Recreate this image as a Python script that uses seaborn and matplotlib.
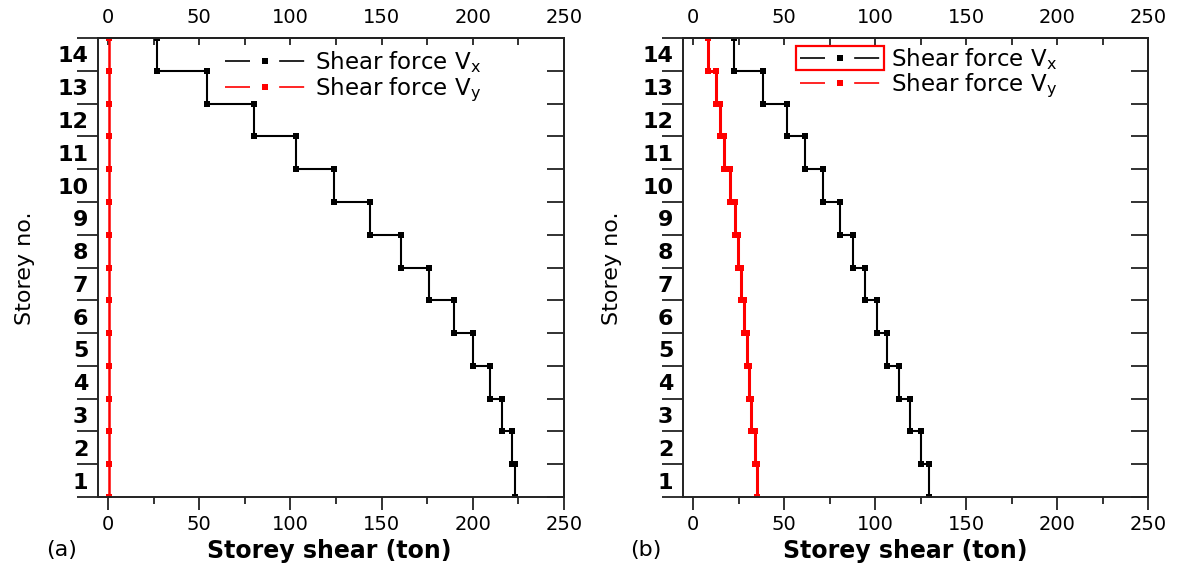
import matplotlib
matplotlib.use("Agg")
import numpy as np
import pandas as pd
import matplotlib.pyplot as plt
import seaborn as sns
from matplotlib.lines import Line2D
from matplotlib.patches import Rectangle
from matplotlib.ticker import FixedLocator, MultipleLocator, NullFormatter, FixedFormatter

# ---------------- data ----------------
storeys = list(range(1, 15))
storey_labels = [str(s) for s in storeys]
x_ticks = [0, 50, 100, 150, 200, 250]

# panel (a): storey shear (ton), storey 1 .. 14
vx_a = [223.1, 221.3, 215.8, 209.4, 200.3, 189.5, 176.0, 160.6, 143.6, 124.0, 103.0, 80.0, 54.2, 26.9]
vy_a = [0.3, 0.3, 0.3, 0.3, 0.3, 0.3, 0.3, 0.3, 0.3, 0.3, 0.3, 0.3, 0.3, 0.3]
# panel (b)
vx_b = [129.9, 125.3, 119.2, 113.0, 106.4, 101.0, 94.5, 88.0, 80.8, 71.3, 61.5, 51.5, 38.3, 22.5]
vy_b = [35.3, 34.0, 31.6, 30.6, 29.7, 28.0, 26.4, 24.7, 23.0, 20.3, 17.2, 14.8, 12.6, 8.4]

legend_labels = [r"Shear force V$_\mathregular{x}$", r"Shear force V$_\mathregular{y}$"]
xlabel = "Storey shear (ton)"
ylabel = "Storey no."

# ---------------- style ----------------
sns.set_theme(style="ticks")
plt.rcParams["font.family"] = ["DejaVu Sans"]
plt.rcParams["text.color"] = "black"
plt.rcParams["axes.edgecolor"] = "#222222"
plt.rcParams["axes.linewidth"] = 1.4

W, H = 1178, 564
fig = plt.figure(figsize=(W / 100, H / 100), dpi=100)


def px_rect(x0, y0, x1, y1):
    return [x0 / W, 1 - y1 / H, (x1 - x0) / W, (y1 - y0) / H]


def step_frame(values):
    xs, ys = [], []
    for s, v in zip(storeys, values):
        xs += [v, v]
        ys += [s - 1, s]
    return pd.DataFrame({"shear": xs, "level": ys})


def draw_panel(rect, vx, vy, leg_anchor, red_lw):
    ax = fig.add_axes(rect)
    sns.lineplot(data=step_frame(vx), x="shear", y="level", sort=False, estimator=None,
                 color="black", lw=1.5, marker="s", markersize=3.8, markeredgewidth=0, ax=ax)
    sns.lineplot(data=step_frame(vy), x="shear", y="level", sort=False, estimator=None,
                 color="#ff0000", lw=red_lw, marker="s", markersize=3.8, markeredgewidth=0, ax=ax)
    ax.set_xlim(-5.5, 250)
    ax.set_ylim(0, 14)
    ax.set_xlabel("")
    ax.set_ylabel("")
    for sp in ax.spines.values():
        sp.set_visible(True)

    # bottom axis
    ax.xaxis.set_major_locator(FixedLocator(x_ticks))
    ax.xaxis.set_minor_locator(MultipleLocator(25))
    ax.tick_params(axis="x", which="major", direction="out", length=9, width=1.3,
                   labelsize=14, pad=4, colors="#222222", labelcolor="black")
    ax.tick_params(axis="x", which="minor", direction="out", length=5, width=1.3, colors="#222222")

    # left axis: ticks at storey boundaries, labels at storey centres
    ax.yaxis.set_major_locator(FixedLocator(list(range(0, 15))))
    ax.yaxis.set_major_formatter(NullFormatter())
    ax.yaxis.set_minor_locator(FixedLocator([s - 0.5 for s in storeys]))
    ax.yaxis.set_minor_formatter(FixedFormatter(storey_labels))
    ax.tick_params(axis="y", which="major", direction="out", length=15, width=1.3, colors="#222222")
    ax.tick_params(axis="y", which="minor", length=0, labelsize=16, pad=7, labelcolor="black")
    for lab in ax.get_yticklabels(minor=True):
        lab.set_fontweight("bold")

    # top axis
    top = ax.secondary_xaxis("top")
    top.xaxis.set_major_locator(FixedLocator(x_ticks))
    top.xaxis.set_minor_locator(MultipleLocator(25))
    top.tick_params(which="both", direction="in", length=5, width=1.3, labelsize=14, pad=8,
                    colors="#222222", labelcolor="black")

    # right axis
    right = ax.secondary_yaxis("right")
    right.yaxis.set_major_locator(FixedLocator(list(range(0, 15))))
    right.yaxis.set_major_formatter(NullFormatter())
    right.tick_params(direction="in", length=12, width=1.3, colors="#222222")

    # legend
    lw_leg = 1.2
    handles = [
        Line2D([], [], color="black", lw=lw_leg, dashes=(18 / lw_leg, 21 / lw_leg),
               marker="s", markersize=4, markeredgewidth=0),
        Line2D([], [], color="#ff0000", lw=lw_leg, dashes=(18 / lw_leg, 21 / lw_leg),
               marker="s", markersize=4, markeredgewidth=0),
    ]
    leg = ax.legend(handles, legend_labels, loc="upper left", bbox_to_anchor=leg_anchor,
                    frameon=False, fontsize=16.5, handlelength=3.5, handletextpad=0.45,
                    labelspacing=0.0, borderpad=0, borderaxespad=0, numpoints=1)
    for t in leg.get_texts():
        t.set_color("black")
    return ax, leg


ax_a, leg_a = draw_panel(px_rect(98, 38, 564, 497), vx_a, vy_a, (0.272, 0.975), 1.8)
ax_b, leg_b = draw_panel(px_rect(683, 38, 1148, 497), vx_b, vy_b, (0.252, 0.983), 2.2)

# axis titles and panel tags
fig.text(329 / W, 1 - 551 / H, xlabel, ha="center", va="center", fontsize=17, fontweight="bold")
fig.text(905 / W, 1 - 551 / H, xlabel, ha="center", va="center", fontsize=17, fontweight="bold")
fig.text(25 / W, 1 - 268 / H, ylabel, ha="center", va="center", rotation=90, fontsize=16)
fig.text(612 / W, 1 - 268 / H, ylabel, ha="center", va="center", rotation=90, fontsize=16)
fig.text(62 / W, 1 - 550 / H, "(a)", ha="center", va="center", fontsize=16)
fig.text(646 / W, 1 - 550 / H, "(b)", ha="center", va="center", fontsize=16)

# red selection box around the first legend entry of panel (b)
fig.canvas.draw()
renderer = fig.canvas.get_renderer()
line0 = leg_b.get_lines()[0]
bb = line0.get_window_extent(renderer)
yc = (bb.y0 + bb.y1) / 2
box = Rectangle((bb.x0 - 1, yc - 12), bb.width + 2, 24, transform=None,
                fill=False, edgecolor="#ff0000", lw=1.6)
fig.add_artist(box)

fig.savefig("out.png", dpi=100)
